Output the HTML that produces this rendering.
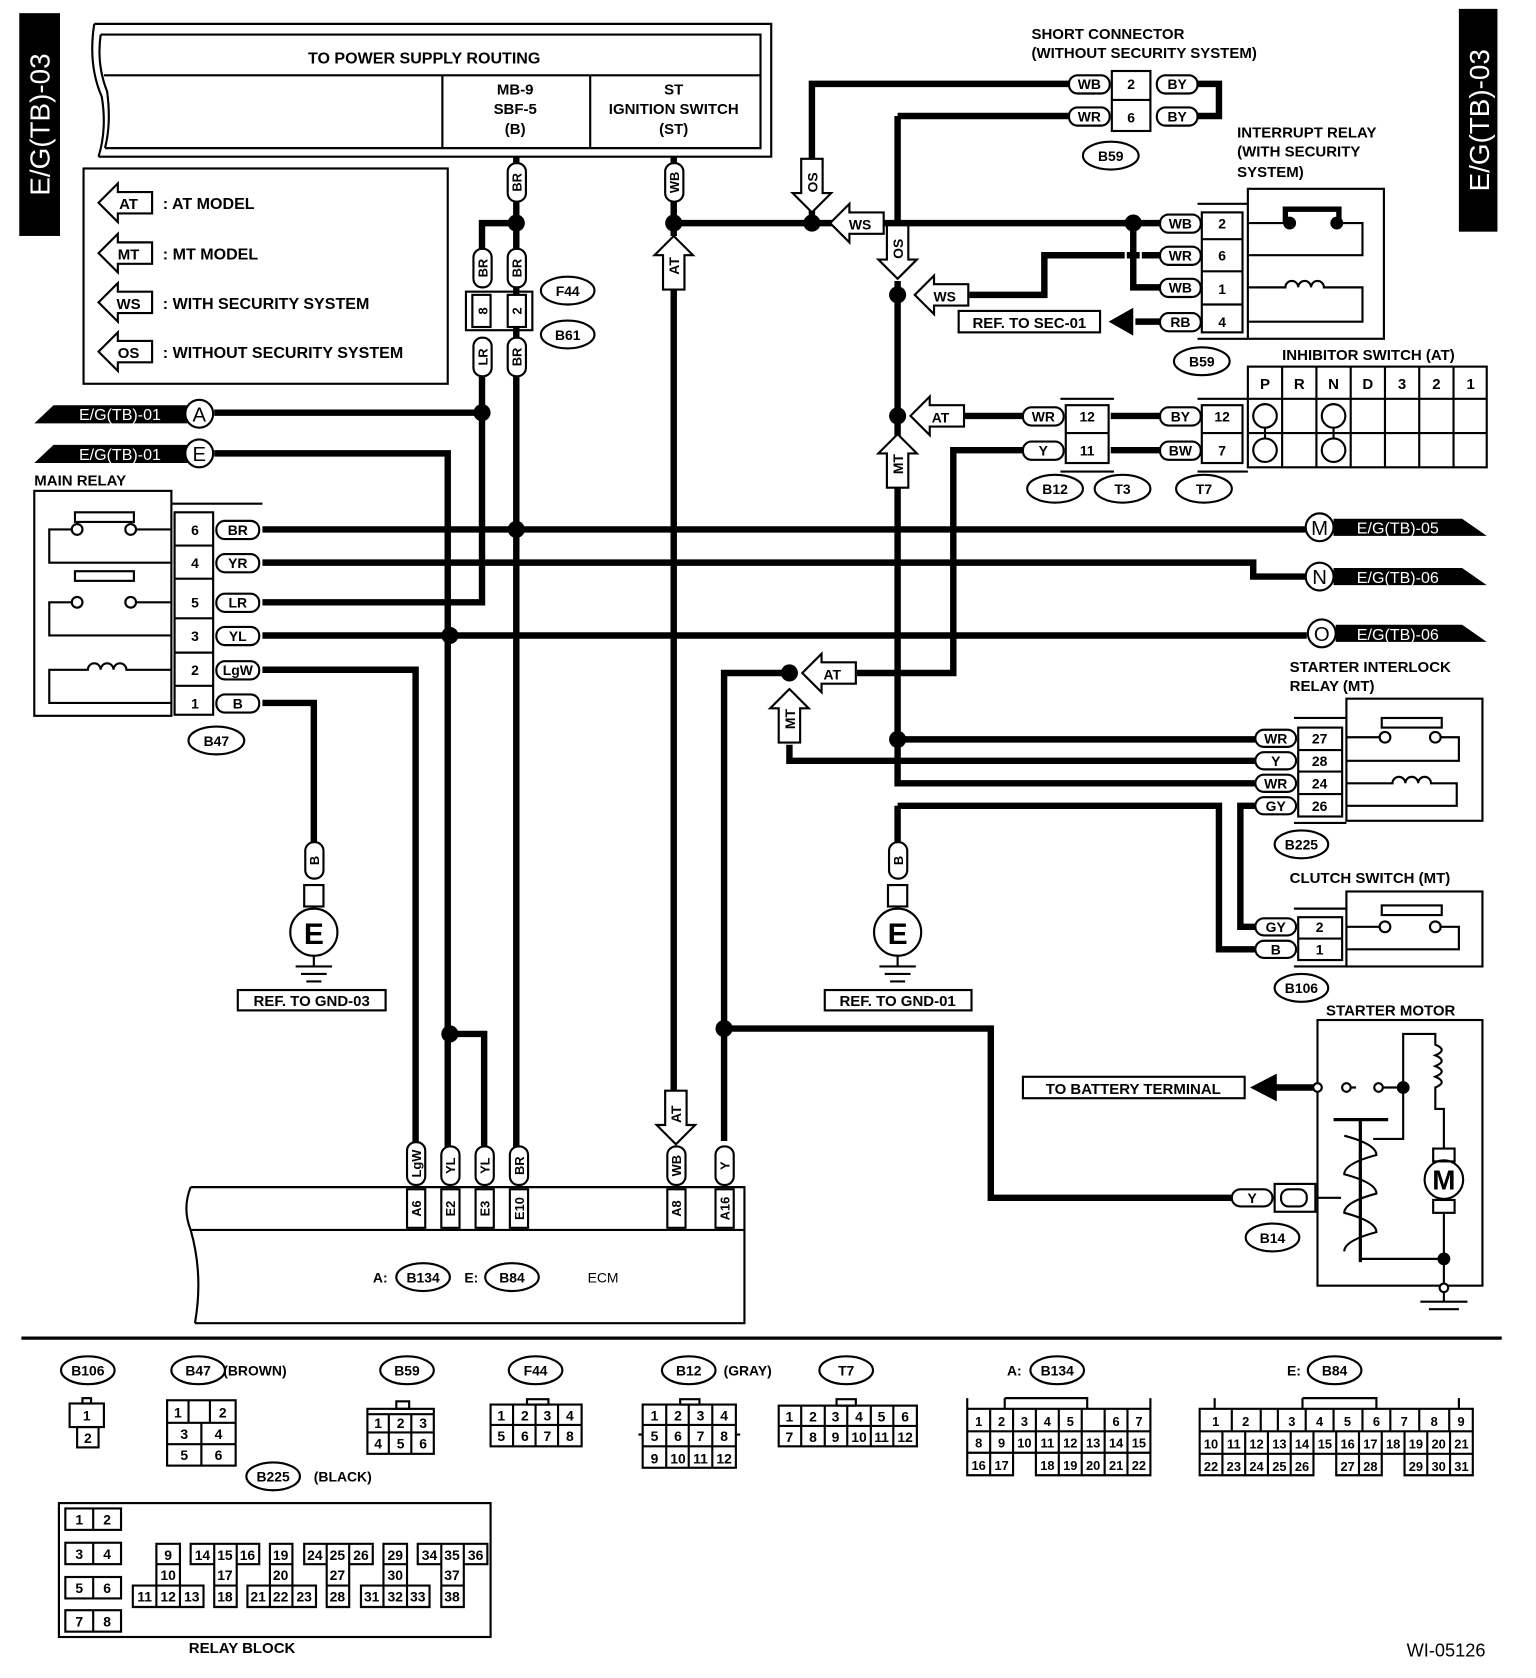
<!DOCTYPE html>
<html><head><meta charset="utf-8"><style>
html,body{margin:0;padding:0;background:#fff}
svg{display:block}
text{font-family:"Liberation Sans",sans-serif;font-weight:bold;fill:#000}
.w{stroke:#000;stroke-width:6;fill:none}
.t{stroke:#000;stroke-width:2;fill:none}
.b{stroke:#000;stroke-width:2;fill:#fff}
</style></head><body>
<svg width="1536" height="1678" viewBox="0 0 1434 1566" xmlns="http://www.w3.org/2000/svg">
<defs>
<polygon id="ar" points="-26,0 -8,-18 -8,-10 24,-10 24,10 -8,10 -8,18" fill="#fff" stroke="#000" stroke-width="2"/>
</defs>
<rect width="1434" height="1566" fill="#fff"/>

<rect x="18" y="12" width="38" height="208" fill="#000"/>
<text transform="translate(46,116) rotate(-90)" font-size="26" text-anchor="middle" style="fill:#fff;font-weight:normal">E/G(TB)-03</text>
<rect x="1362" y="8" width="36" height="208" fill="#000"/>
<text transform="translate(1390,112) rotate(-90)" font-size="26" text-anchor="middle" style="fill:#fff;font-weight:normal">E/G(TB)-03</text>

<path class="t" d="M88,22 L720,22 L720,146 L92,146 M88,22 Q82,60 95,90 Q100,120 92,146" stroke-width="3"/>
<path class="t" d="M94,32 L710,32 L710,138 L98,138 M94,32 Q90,60 100,85 Q104,115 98,138 M97,70 L710,70 M413,70 L413,138 M551,70 L551,138" stroke-width="3"/>
<text x="396" y="59" font-size="15" text-anchor="middle">TO POWER SUPPLY ROUTING</text>
<text x="481" y="88" font-size="14" text-anchor="middle">MB-9</text>
<text x="481" y="106" font-size="14" text-anchor="middle">SBF-5</text>
<text x="481" y="125" font-size="14" text-anchor="middle">(B)</text>
<text x="629" y="88" font-size="14" text-anchor="middle">ST</text>
<text x="629" y="106" font-size="14" text-anchor="middle">IGNITION SWITCH</text>
<text x="629" y="125" font-size="14" text-anchor="middle">(ST)</text>

<rect x="78" y="157" width="340" height="201" class="t" stroke-width="3"/>
<use href="#ar" x="118" y="189"/><text x="120" y="195" font-size="14" text-anchor="middle">AT</text><text x="152" y="195" font-size="15">: AT MODEL</text>
<use href="#ar" x="118" y="236"/><text x="120" y="242" font-size="14" text-anchor="middle">MT</text><text x="152" y="242" font-size="15">: MT MODEL</text>
<use href="#ar" x="118" y="282"/><text x="120" y="288" font-size="14" text-anchor="middle">WS</text><text x="152" y="288" font-size="15">: WITH SECURITY SYSTEM</text>
<use href="#ar" x="118" y="328"/><text x="120" y="334" font-size="14" text-anchor="middle">OS</text><text x="152" y="334" font-size="15">: WITHOUT SECURITY SYSTEM</text>

<g class="w">
<path d="M482,146 V1090"/>
<path d="M482,208 H450 V240"/>
<path d="M450,345 V562 H245"/>
<path d="M200,385 H450"/>
<path d="M200,423 H418 V1090"/>
<path d="M418,965 H452 V1090"/>
<path d="M245,494 H1220"/>
<path d="M245,525 H1170 V538 H1220"/>
<path d="M245,593 H1220"/>
<path d="M245,625 H388 V1090"/>
<path d="M245,656 H293 V790"/>
<path d="M629,146 V220 M629,265 V1030"/>
<path d="M629,208 H778 M818,208 H1085"/>
<path d="M758,208 V78 H1000"/>
<path d="M838,108 H1000 M838,108 V210"/>
<path d="M838,262 V731 H1172"/>
<path d="M1058,208 V268 H1085"/>
<path d="M905,275 H975 V238 H1085"/>
<path d="M1060,300 H1085"/>
<path d="M900,388 H957 M1037,388 H1085"/>
<path d="M957,420 H890 V628 H800"/>
<path d="M1037,420 H1085"/>
<path d="M838,690 H1172"/>
<path d="M737,628 H676 V1065"/>
<path d="M737,695 V710 H1172"/>
<path d="M838,752 H1138 V886 H1172"/>
<path d="M838,752 V790"/>
<path d="M1172,752 H1158 V865 H1172"/>
<path d="M676,960 H925 V1118 H1150"/>
<path d="M1118,78 H1138 V108 H1118"/>
</g>
<g fill="#000">
<circle cx="482" cy="208" r="8"/><circle cx="450" cy="385" r="8"/><circle cx="482" cy="494" r="8"/>
<circle cx="420" cy="593" r="8"/><circle cx="420" cy="965" r="8"/><circle cx="629" cy="208" r="8"/>
<circle cx="758" cy="208" r="8"/><circle cx="838" cy="275" r="8"/><circle cx="838" cy="388" r="8"/>
<circle cx="1058" cy="208" r="8"/><circle cx="737" cy="628" r="8"/><circle cx="838" cy="690" r="8"/>
<circle cx="676" cy="960" r="8"/>
</g>
<g fill="#fff">
<rect x="1050" y="232" width="2" height="12"/><rect x="1064" y="232" width="2" height="12"/>
</g>

<g font-size="12">
<rect x="474" y="152" width="17" height="36" rx="8" class="b"/><text transform="translate(487,170) rotate(-90)" text-anchor="middle">BR</text>
<rect x="621" y="152" width="17" height="36" rx="8" class="b"/><text transform="translate(634,170) rotate(-90)" text-anchor="middle">WB</text>
<rect x="442" y="232" width="17" height="36" rx="8" class="b"/><text transform="translate(455,250) rotate(-90)" text-anchor="middle">BR</text>
<rect x="474" y="232" width="17" height="36" rx="8" class="b"/><text transform="translate(487,250) rotate(-90)" text-anchor="middle">BR</text>
<rect x="442" y="315" width="17" height="36" rx="8" class="b"/><text transform="translate(455,333) rotate(-90)" text-anchor="middle">LR</text>
<rect x="474" y="315" width="17" height="36" rx="8" class="b"/><text transform="translate(487,333) rotate(-90)" text-anchor="middle">BR</text>
<rect x="285" y="786" width="17" height="34" rx="8" class="b"/><text transform="translate(298,803) rotate(-90)" text-anchor="middle">B</text>
<rect x="830" y="786" width="17" height="34" rx="8" class="b"/><text transform="translate(843,803) rotate(-90)" text-anchor="middle">B</text>
<rect x="380" y="1066" width="17" height="40" rx="8" class="b"/><text transform="translate(393,1086) rotate(-90)" text-anchor="middle">LgW</text>
<rect x="412" y="1070" width="17" height="36" rx="8" class="b"/><text transform="translate(425,1088) rotate(-90)" text-anchor="middle">YL</text>
<rect x="444" y="1070" width="17" height="36" rx="8" class="b"/><text transform="translate(457,1088) rotate(-90)" text-anchor="middle">YL</text>
<rect x="476" y="1070" width="17" height="36" rx="8" class="b"/><text transform="translate(489,1088) rotate(-90)" text-anchor="middle">BR</text>
<rect x="623" y="1070" width="17" height="36" rx="8" class="b"/><text transform="translate(636,1088) rotate(-90)" text-anchor="middle">WB</text>
<rect x="668" y="1070" width="17" height="36" rx="8" class="b"/><text transform="translate(681,1088) rotate(-90)" text-anchor="middle">Y</text>
</g>
<rect x="435" y="272" width="62" height="36" class="t"/>
<rect x="441" y="275" width="17" height="30" class="b"/><rect x="474" y="275" width="17" height="30" class="b"/>
<text transform="translate(455,290) rotate(-90)" font-size="12" text-anchor="middle">8</text>
<text transform="translate(487,290) rotate(-90)" font-size="12" text-anchor="middle">2</text>
<g font-size="13" text-anchor="middle">
<ellipse cx="530" cy="271" rx="25" ry="13" class="b"/><text x="530" y="276">F44</text>
<ellipse cx="530" cy="312" rx="25" ry="13" class="b"/><text x="530" y="317">B61</text>
</g>

<polygon points="32,395 50,378 175,378 175,395" fill="#000"/>
<text x="112" y="392" font-size="15" text-anchor="middle" style="fill:#fff;font-weight:normal">E/G(TB)-01</text>
<circle cx="186" cy="386" r="13" class="b"/><text x="186" y="393" font-size="19" text-anchor="middle" style="font-weight:normal">A</text>
<polygon points="32,432 50,415 175,415 175,432" fill="#000"/>
<text x="112" y="429" font-size="15" text-anchor="middle" style="fill:#fff;font-weight:normal">E/G(TB)-01</text>
<circle cx="186" cy="423" r="13" class="b"/><text x="186" y="430" font-size="19" text-anchor="middle" style="font-weight:normal">E</text>

<g>
<polygon points="1245,484 1365,484 1388,500 1245,500" fill="#000"/>
<circle cx="1232" cy="492" r="13" class="b"/><text x="1232" y="499" font-size="19" text-anchor="middle" style="font-weight:normal">M</text>
<text x="1305" y="498" font-size="15" text-anchor="middle" style="fill:#fff;font-weight:normal">E/G(TB)-05</text>
<polygon points="1245,530 1365,530 1388,546 1245,546" fill="#000"/>
<circle cx="1232" cy="538" r="13" class="b"/><text x="1232" y="545" font-size="19" text-anchor="middle" style="font-weight:normal">N</text>
<text x="1305" y="544" font-size="15" text-anchor="middle" style="fill:#fff;font-weight:normal">E/G(TB)-06</text>
<polygon points="1247,583 1365,583 1388,599 1247,599" fill="#000"/>
<circle cx="1234" cy="591" r="13" class="b"/><text x="1234" y="598" font-size="19" text-anchor="middle" style="font-weight:normal">O</text>
<text x="1305" y="597" font-size="15" text-anchor="middle" style="fill:#fff;font-weight:normal">E/G(TB)-06</text>
</g>

<text x="32" y="453" font-size="14">MAIN RELAY</text>
<rect x="32" y="458" width="128" height="210" class="t" stroke-width="3"/>
<rect x="163" y="478" width="36" height="189" class="t"/>
<path class="t" d="M163,509 H199 M163,540 H199 M163,577 H199 M163,609 H199 M163,640 H199 M160,470 H245"/>
<g font-size="13" text-anchor="middle">
<text x="182" y="499">6</text><text x="182" y="530">4</text><text x="182" y="567">5</text><text x="182" y="598">3</text><text x="182" y="630">2</text><text x="182" y="661">1</text>
</g>
<g font-size="13" text-anchor="middle">
<rect x="202" y="486" width="40" height="17" rx="8" class="b"/><text x="222" y="499">BR</text>
<rect x="202" y="517" width="40" height="17" rx="8" class="b"/><text x="222" y="530">YR</text>
<rect x="202" y="554" width="40" height="17" rx="8" class="b"/><text x="222" y="567">LR</text>
<rect x="202" y="585" width="40" height="17" rx="8" class="b"/><text x="222" y="598">YL</text>
<rect x="202" y="617" width="40" height="17" rx="8" class="b"/><text x="222" y="630">LgW</text>
<rect x="202" y="648" width="40" height="17" rx="8" class="b"/><text x="222" y="661">B</text>
</g>
<g class="t">
<rect x="70" y="478" width="55" height="9" fill="#fff"/>
<circle cx="72" cy="494" r="5"/><circle cx="122" cy="494" r="5"/>
<path d="M67,494 H46 V525 H160 M127,494 H160"/>
<rect x="70" y="533" width="55" height="9" fill="#fff"/>
<circle cx="72" cy="562" r="5"/><circle cx="122" cy="562" r="5"/>
<path d="M67,562 H46 V593 H160 M127,562 H160"/>
<path d="M160,625 H118 a6,6 0 0 0 -12,0 a6,6 0 0 0 -12,0 a6,6 0 0 0 -12,0 H46 V656 H160"/>
</g>
<ellipse cx="202" cy="691" rx="26" ry="13" class="b"/><text x="202" y="696" font-size="13" text-anchor="middle">B47</text>

<rect x="284" y="826" width="18" height="20" class="b"/>
<circle cx="293" cy="870" r="22" class="b" stroke-width="3"/><text x="293" y="881" font-size="28" text-anchor="middle">E</text>
<path class="t" d="M293,892 V902 M276,902 H310 M281,909 H305 M286,916 H300"/>
<rect x="222" y="924" width="138" height="19" class="t"/><text x="291" y="939" font-size="14" text-anchor="middle">REF. TO GND-03</text>
<rect x="829" y="826" width="18" height="20" class="b"/>
<circle cx="838" cy="870" r="22" class="b" stroke-width="3"/><text x="838" y="881" font-size="28" text-anchor="middle">E</text>
<path class="t" d="M838,892 V902 M821,902 H855 M826,909 H850 M831,916 H845"/>
<rect x="770" y="924" width="137" height="19" class="t"/><text x="838" y="939" font-size="14" text-anchor="middle">REF. TO GND-01</text>

<g font-size="13" text-anchor="middle">
<use href="#ar" transform="translate(629,246) rotate(90)"/><text transform="translate(634,248) rotate(-90)">AT</text>
<use href="#ar" transform="translate(758,172) rotate(-90)"/><text transform="translate(763,170) rotate(-90)">OS</text>
<use href="#ar" x="801" y="208"/><text x="803" y="214">WS</text>
<use href="#ar" transform="translate(838,234) rotate(-90)"/><text transform="translate(843,232) rotate(-90)">OS</text>
<use href="#ar" x="880" y="275"/><text x="882" y="281">WS</text>
<use href="#ar" x="876" y="388"/><text x="878" y="394">AT</text>
<use href="#ar" transform="translate(838,431) rotate(90)"/><text transform="translate(843,433) rotate(-90)">MT</text>
<use href="#ar" x="775" y="628"/><text x="777" y="634">AT</text>
<use href="#ar" transform="translate(737,669) rotate(90)"/><text transform="translate(742,671) rotate(-90)">MT</text>
<use href="#ar" transform="translate(631,1042) rotate(-90)"/><text transform="translate(636,1040) rotate(-90)">AT</text>
</g>

<text x="963" y="36" font-size="14">SHORT CONNECTOR</text>
<text x="963" y="54" font-size="14">(WITHOUT SECURITY SYSTEM)</text>
<rect x="1038" y="66" width="36" height="56" class="t"/>
<path class="t" d="M1038,93 H1074"/>
<g font-size="13" text-anchor="middle">
<text x="1056" y="83">2</text><text x="1056" y="114">6</text>
<rect x="998" y="70" width="38" height="17" rx="8" class="b"/><text x="1017" y="83">WB</text>
<rect x="998" y="100" width="38" height="17" rx="8" class="b"/><text x="1017" y="113">WR</text>
<rect x="1080" y="70" width="38" height="17" rx="8" class="b"/><text x="1099" y="83">BY</text>
<rect x="1080" y="100" width="38" height="17" rx="8" class="b"/><text x="1099" y="113">BY</text>
<ellipse cx="1037" cy="145" rx="26" ry="13" class="b"/><text x="1037" y="150">B59</text>
</g>

<text x="1155" y="128" font-size="14">INTERRUPT RELAY</text>
<text x="1155" y="146" font-size="14">(WITH SECURITY</text>
<text x="1155" y="165" font-size="14">SYSTEM)</text>
<rect x="1165" y="176" width="127" height="140" class="t"/>
<rect x="1122" y="198" width="38" height="112" class="t"/>
<path class="t" d="M1122,223 H1160 M1122,253 H1160 M1122,284 H1160 M1118,190 H1165 M1118,316 H1165"/>
<g font-size="13" text-anchor="middle">
<text x="1141" y="213">2</text><text x="1141" y="243">6</text><text x="1141" y="274">1</text><text x="1141" y="305">4</text>
<rect x="1083" y="200" width="38" height="17" rx="8" class="b"/><text x="1102" y="213">WB</text>
<rect x="1083" y="230" width="38" height="17" rx="8" class="b"/><text x="1102" y="243">WR</text>
<rect x="1083" y="260" width="38" height="17" rx="8" class="b"/><text x="1102" y="273">WB</text>
<rect x="1083" y="292" width="38" height="17" rx="8" class="b"/><text x="1102" y="305">RB</text>
<ellipse cx="1122" cy="337" rx="26" ry="13" class="b"/><text x="1122" y="342">B59</text>
</g>
<g class="t">
<path d="M1200,208 V195 H1250 V208" stroke-width="5"/>
<circle cx="1204" cy="208" r="5" fill="#000"/><circle cx="1248" cy="208" r="5" fill="#000"/>
<path d="M1165,208 H1199 M1253,208 H1272 V238 H1165"/>
<path d="M1165,268 H1200 a6,6 0 0 1 12,0 a6,6 0 0 1 12,0 a6,6 0 0 1 12,0 H1272 V300 H1165"/>
</g>
<rect x="895" y="290" width="132" height="20" class="t"/><text x="961" y="306" font-size="14" text-anchor="middle">REF. TO SEC-01</text>
<polygon points="1035,300 1058,287 1058,313" fill="#000"/>

<text x="1197" y="336" font-size="14">INHIBITOR SWITCH (AT)</text>
<g class="t">
<rect x="1165" y="342" width="223" height="94"/>
<path d="M1165,372 H1388 M1165,404 H1388 M1197,342 V436 M1229,342 V436 M1261,342 V436 M1293,342 V436 M1325,342 V436 M1357,342 V436"/>
<circle cx="1181" cy="388" r="11"/><circle cx="1181" cy="420" r="11"/><path d="M1181,399 V409"/>
<circle cx="1245" cy="388" r="11"/><circle cx="1245" cy="420" r="11"/><path d="M1245,399 V409"/>
</g>
<g font-size="14" text-anchor="middle">
<text x="1181" y="363">P</text><text x="1213" y="363">R</text><text x="1245" y="363">N</text><text x="1277" y="363">D</text><text x="1309" y="363">3</text><text x="1341" y="363">2</text><text x="1373" y="363">1</text>
</g>
<rect x="995" y="378" width="40" height="54" class="t"/><path class="t" d="M995,404 H1035 M990,372 H1040 M990,440 H1040"/>
<rect x="1122" y="378" width="38" height="54" class="t"/><path class="t" d="M1122,404 H1160 M1118,372 H1165 M1118,440 H1165"/>
<g font-size="13" text-anchor="middle">
<text x="1015" y="393">12</text><text x="1015" y="425">11</text>
<text x="1141" y="393">12</text><text x="1141" y="425">7</text>
<rect x="955" y="380" width="38" height="17" rx="8" class="b"/><text x="974" y="393">WR</text>
<rect x="955" y="412" width="38" height="17" rx="8" class="b"/><text x="974" y="425">Y</text>
<rect x="1083" y="380" width="38" height="17" rx="8" class="b"/><text x="1102" y="393">BY</text>
<rect x="1083" y="412" width="38" height="17" rx="8" class="b"/><text x="1102" y="425">BW</text>
<ellipse cx="985" cy="456" rx="26" ry="13" class="b"/><text x="985" y="461">B12</text>
<ellipse cx="1048" cy="456" rx="26" ry="13" class="b"/><text x="1048" y="461">T3</text>
<ellipse cx="1124" cy="456" rx="26" ry="13" class="b"/><text x="1124" y="461">T7</text>
</g>

<text x="1204" y="627" font-size="14">STARTER INTERLOCK</text>
<text x="1204" y="645" font-size="14">RELAY (MT)</text>
<rect x="1257" y="652" width="127" height="114" class="t"/>
<rect x="1212" y="679" width="41" height="83" class="t"/>
<path class="t" d="M1212,700 H1253 M1212,720 H1253 M1212,741 H1253 M1208,670 H1257 M1208,768 H1257"/>
<g font-size="13" text-anchor="middle">
<text x="1232" y="694">27</text><text x="1232" y="715">28</text><text x="1232" y="736">24</text><text x="1232" y="757">26</text>
<rect x="1172" y="681" width="38" height="16" rx="8" class="b"/><text x="1191" y="694">WR</text>
<rect x="1172" y="702" width="38" height="16" rx="8" class="b"/><text x="1191" y="715">Y</text>
<rect x="1172" y="723" width="38" height="16" rx="8" class="b"/><text x="1191" y="736">WR</text>
<rect x="1172" y="744" width="38" height="16" rx="8" class="b"/><text x="1191" y="757">GY</text>
<ellipse cx="1215" cy="788" rx="25" ry="13" class="b"/><text x="1215" y="793">B225</text>
</g>
<g class="t">
<rect x="1290" y="670" width="56" height="9"/>
<circle cx="1293" cy="688" r="5"/><circle cx="1340" cy="688" r="5"/>
<path d="M1257,688 H1288 M1345,688 H1362 V710 H1257"/>
<path d="M1257,731 H1300 a6,6 0 0 1 12,0 a6,6 0 0 1 12,0 a6,6 0 0 1 12,0 H1360 V752 H1257"/>
</g>
<text x="1204" y="824" font-size="14">CLUTCH SWITCH (MT)</text>
<rect x="1257" y="832" width="127" height="70" class="t"/>
<rect x="1212" y="856" width="41" height="40" class="t"/>
<path class="t" d="M1212,876 H1253 M1208,848 H1257 M1208,902 H1257"/>
<g font-size="13" text-anchor="middle">
<text x="1232" y="870">2</text><text x="1232" y="891">1</text>
<rect x="1172" y="857" width="38" height="16" rx="8" class="b"/><text x="1191" y="870">GY</text>
<rect x="1172" y="878" width="38" height="16" rx="8" class="b"/><text x="1191" y="891">B</text>
<ellipse cx="1215" cy="922" rx="25" ry="13" class="b"/><text x="1215" y="927">B106</text>
</g>
<g class="t">
<rect x="1290" y="845" width="56" height="9"/>
<circle cx="1293" cy="865" r="5"/><circle cx="1340" cy="865" r="5"/>
<path d="M1257,865 H1288 M1345,865 H1362 V886 H1257"/>
</g>

<text x="1238" y="948" font-size="14">STARTER MOTOR</text>
<rect x="1230" y="952" width="154" height="248" class="t"/>
<rect x="955" y="1005" width="207" height="20" class="t"/><text x="1058" y="1021" font-size="14" text-anchor="middle">TO BATTERY TERMINAL</text>
<polygon points="1167,1015 1192,1002 1192,1028" fill="#000"/>
<path class="w" d="M1190,1015 H1226" stroke-width="5"/>
<g class="t">
<circle cx="1230" cy="1015" r="4" fill="#fff"/><circle cx="1257" cy="1015" r="4"/><circle cx="1287" cy="1015" r="4"/>
<path d="M1261,1015 H1266 M1291,1015 H1310"/>
<circle cx="1310" cy="1015" r="5" fill="#000"/>
<path d="M1310,1015 V965 H1340 V975 q12,5 0,10 q12,5 0,10 q12,5 0,10 q12,5 0,10 V1035 H1348 V1072"/>
<path d="M1310,1015 V1063 H1282"/>
<rect x="1338" y="1072" width="20" height="12"/>
<circle cx="1348" cy="1101" r="18"/>
<rect x="1338" y="1120" width="20" height="12"/>
<path d="M1348,1132 V1198 M1348,1175 H1270"/>
<circle cx="1348" cy="1175" r="5" fill="#000"/>
<circle cx="1348" cy="1202" r="4" fill="#fff"/>
<path d="M1348,1206 V1215 M1326,1215 H1370 M1334,1222 H1362"/>
<path d="M1245,1045 H1296 M1270,1045 V1178" stroke-width="3"/>
<path d="M1255,1060 q30,8 30,18 q-30,8 -30,18 q30,8 30,18 q-30,8 -30,18 q30,8 30,18 q-30,8 -30,18"/>
<path d="M1228,1118 H1252"/>
</g>
<text x="1348" y="1110" font-size="26" text-anchor="middle">M</text>
<rect x="1190" y="1105" width="38" height="26" class="t"/><rect x="1196" y="1110" width="24" height="16" rx="7" class="t"/>
<rect x="1150" y="1110" width="38" height="16" rx="8" class="b"/><text x="1169" y="1123" font-size="13" text-anchor="middle">Y</text>
<ellipse cx="1188" cy="1155" rx="25" ry="13" class="b"/><text x="1188" y="1160" font-size="13" text-anchor="middle">B14</text>

<path class="t" stroke-width="3" d="M178,1108 H695 V1235 H182 M178,1148 H695 M178,1108 Q170,1128 178,1148 Q190,1190 182,1235"/>
<g class="t">
<rect x="380" y="1110" width="17" height="36"/><rect x="412" y="1110" width="17" height="36"/><rect x="444" y="1110" width="17" height="36"/><rect x="476" y="1110" width="17" height="36"/>
<rect x="623" y="1110" width="17" height="36"/><rect x="668" y="1110" width="17" height="36"/>
</g>
<g font-size="12" text-anchor="middle">
<text transform="translate(393,1128) rotate(-90)">A6</text><text transform="translate(425,1128) rotate(-90)">E2</text>
<text transform="translate(457,1128) rotate(-90)">E3</text><text transform="translate(489,1128) rotate(-90)">E10</text>
<text transform="translate(636,1128) rotate(-90)">A8</text><text transform="translate(681,1128) rotate(-90)">A16</text>
</g>
<g font-size="13" text-anchor="middle">
<text x="355" y="1197">A:</text>
<ellipse cx="395" cy="1192" rx="25" ry="13" class="b"/><text x="395" y="1197">B134</text>
<text x="440" y="1197">E:</text>
<ellipse cx="478" cy="1192" rx="25" ry="13" class="b"/><text x="478" y="1197">B84</text>
<text x="563" y="1197" style="font-weight:normal">ECM</text>
</g>

<path d="M20,1249 H1402" stroke="#000" stroke-width="3"/>

<g font-size="13" text-anchor="middle">
<ellipse cx="82" cy="1279" rx="25" ry="13" class="b"/><text x="82" y="1284">B106</text>
<ellipse cx="185" cy="1279" rx="25" ry="13" class="b"/><text x="185" y="1284">B47</text><text x="238" y="1284">(BROWN)</text>
<ellipse cx="380" cy="1279" rx="25" ry="13" class="b"/><text x="380" y="1284">B59</text>
<ellipse cx="500" cy="1279" rx="25" ry="13" class="b"/><text x="500" y="1284">F44</text>
<ellipse cx="643" cy="1279" rx="25" ry="13" class="b"/><text x="643" y="1284">B12</text><text x="698" y="1284">(GRAY)</text>
<ellipse cx="790" cy="1279" rx="25" ry="13" class="b"/><text x="790" y="1284">T7</text>
<text x="947" y="1284">A:</text><ellipse cx="987" cy="1279" rx="25" ry="13" class="b"/><text x="987" y="1284">B134</text>
<text x="1208" y="1284">E:</text><ellipse cx="1246" cy="1279" rx="25" ry="13" class="b"/><text x="1246" y="1284">B84</text>
<ellipse cx="255" cy="1378" rx="25" ry="13" class="b"/><text x="255" y="1383">B225</text><text x="320" y="1383">(BLACK)</text>
</g>
<g class="t">
<rect x="77" y="1305" width="8" height="5"/><rect x="65" y="1310" width="32" height="22"/><rect x="72" y="1332" width="20" height="19"/>
<rect x="156" y="1307" width="64" height="61"/><path d="M156,1328 H220 M156,1348 H220 M188,1328 V1368 M176,1307 V1328 M196,1307 V1328"/>
<rect x="370" y="1308" width="12" height="7"/><rect x="343" y="1315" width="62" height="42"/><path d="M343,1320 H405 M343,1337 H405 M363,1320 V1357 M384,1320 V1357"/>
<rect x="492" y="1306" width="20" height="5"/><rect x="458" y="1311" width="85" height="39"/><path d="M458,1330 H543 M479,1311 V1350 M500,1311 V1350 M521,1311 V1350"/>
<rect x="635" y="1306" width="18" height="5"/><rect x="600" y="1311" width="87" height="59"/><path d="M600,1330 H687 M600,1350 H687 M622,1311 V1370 M643,1311 V1370 M665,1311 V1370 M596,1339 H600 M687,1339 H691"/>
<rect x="781" y="1306" width="18" height="6"/><rect x="727" y="1312" width="129" height="38"/><path d="M727,1331 H856 M748,1312 V1350 M770,1312 V1350 M791,1312 V1350 M813,1312 V1350 M834,1312 V1350"/>
<path d="M903,1315 H1074 V1377 H967.1 V1356 H945.8 V1377 H903 Z M903,1336 H1074 M903,1356 H1074 M924.4,1315 V1377 M945.8,1315 V1356 M967.1,1315 V1356 M988.5,1315 V1377 M1009.9,1315 V1377 M1031.3,1315 V1377 M1052.6,1315 V1377 M903,1305 V1315 M1074,1305 V1315 M938,1305 H1015 V1315 M938,1305 V1315"/>
<path d="M1120,1315 H1375 V1377 H1311.25 V1357 H1290 V1377 H1247.5 V1357 H1226.25 V1377 H1120 Z M1120,1336 H1375 M1120,1357 H1375 M1141.25,1336 V1377 M1162.5,1336 V1377 M1183.75,1336 V1377 M1205,1336 V1377 M1226.25,1336 V1357 M1247.5,1336 V1357 M1268.75,1336 V1377 M1290,1336 V1357 M1311.25,1336 V1357 M1332.5,1336 V1377 M1353.75,1336 V1377 M1150,1315 V1336 M1177,1315 V1336 M1193,1315 V1336 M1219,1315 V1336 M1245,1315 V1336 M1272,1315 V1336 M1298,1315 V1336 M1325,1315 V1336 M1353,1315 V1336 M1216,1305 H1285 V1315 M1216,1305 V1315 M1134,1305 V1315 M1362,1305 V1315"/>
</g>
<g font-size="13" text-anchor="middle">
<text x="81" y="1326">1</text><text x="82" y="1347">2</text>
<text x="166" y="1323">1</text><text x="208" y="1323">2</text><text x="172" y="1343">3</text><text x="204" y="1343">4</text><text x="172" y="1363">5</text><text x="204" y="1363">6</text>
<text x="353" y="1333">1</text><text x="374" y="1333">2</text><text x="395" y="1333">3</text><text x="353" y="1352">4</text><text x="374" y="1352">5</text><text x="395" y="1352">6</text>
<text x="468" y="1326">1</text><text x="490" y="1326">2</text><text x="511" y="1326">3</text><text x="532" y="1326">4</text>
<text x="468" y="1345">5</text><text x="490" y="1345">6</text><text x="511" y="1345">7</text><text x="532" y="1345">8</text>
<text x="611" y="1326">1</text><text x="633" y="1326">2</text><text x="654" y="1326">3</text><text x="676" y="1326">4</text>
<text x="611" y="1345">5</text><text x="633" y="1345">6</text><text x="654" y="1345">7</text><text x="676" y="1345">8</text>
<text x="611" y="1366">9</text><text x="633" y="1366">10</text><text x="654" y="1366">11</text><text x="676" y="1366">12</text>
<text x="737" y="1327">1</text><text x="759" y="1327">2</text><text x="780" y="1327">3</text><text x="802" y="1327">4</text><text x="823" y="1327">5</text><text x="845" y="1327">6</text>
<text x="737" y="1346">7</text><text x="759" y="1346">8</text><text x="780" y="1346">9</text><text x="802" y="1346">10</text><text x="823" y="1346">11</text><text x="845" y="1346">12</text>
</g>
<g font-size="12" text-anchor="middle">
<text x="913.7" y="1331">1</text><text x="935.1" y="1331">2</text><text x="956.4" y="1331">3</text><text x="977.8" y="1331">4</text><text x="999.2" y="1331">5</text><text x="1042" y="1331">6</text><text x="1063.3" y="1331">7</text>
<text x="913.7" y="1351">8</text><text x="935.1" y="1351">9</text><text x="956.4" y="1351">10</text><text x="977.8" y="1351">11</text><text x="999.2" y="1351">12</text><text x="1020.6" y="1351">13</text><text x="1042" y="1351">14</text><text x="1063.3" y="1351">15</text>
<text x="913.7" y="1372">16</text><text x="935.1" y="1372">17</text><text x="977.8" y="1372">18</text><text x="999.2" y="1372">19</text><text x="1020.6" y="1372">20</text><text x="1042" y="1372">21</text><text x="1063.3" y="1372">22</text>
<text x="1135" y="1331">1</text><text x="1163" y="1331">2</text><text x="1206" y="1331">3</text><text x="1232" y="1331">4</text><text x="1258" y="1331">5</text><text x="1285" y="1331">6</text><text x="1311" y="1331">7</text><text x="1339" y="1331">8</text><text x="1364" y="1331">9</text>
<text x="1130.6" y="1352">10</text><text x="1151.9" y="1352">11</text><text x="1173.1" y="1352">12</text><text x="1194.4" y="1352">13</text><text x="1215.6" y="1352">14</text><text x="1236.9" y="1352">15</text><text x="1258.1" y="1352">16</text><text x="1279.4" y="1352">17</text><text x="1300.6" y="1352">18</text><text x="1321.9" y="1352">19</text><text x="1343.1" y="1352">20</text><text x="1364.4" y="1352">21</text>
<text x="1130.6" y="1373">22</text><text x="1151.9" y="1373">23</text><text x="1173.1" y="1373">24</text><text x="1194.4" y="1373">25</text><text x="1215.6" y="1373">26</text><text x="1258.1" y="1373">27</text><text x="1279.4" y="1373">28</text><text x="1321.9" y="1373">29</text><text x="1343.1" y="1373">30</text><text x="1364.4" y="1373">31</text>
</g>

<rect x="55" y="1403" width="403" height="125" class="t"/>
<g class="t">
<rect x="61" y="1408" width="52" height="20"/><path d="M87,1408 V1428"/>
<rect x="61" y="1440" width="52" height="20"/><path d="M87,1440 V1460"/>
<rect x="61" y="1472" width="52" height="20"/><path d="M87,1472 V1492"/>
<rect x="61" y="1503" width="52" height="20"/><path d="M87,1503 V1523"/>
<path d="M146,1441 H168 V1480 H190 V1500 H124 V1480 H146 Z M146,1460 H168 M146,1480 H168 M146,1480 V1500 M168,1480 V1500"/>
<path d="M178,1441 H242 V1460 H221 V1500 H200 V1460 H178 Z M200,1441 V1460 M221,1441 V1460 M200,1480 H221"/>
<path d="M252,1441 H273 V1480 H295 V1500 H231 V1480 H252 Z M252,1460 H273 M252,1480 H273 M252,1480 V1500 M273,1480 V1500"/>
<path d="M284,1441 H348 V1460 H326 V1500 H305 V1460 H284 Z M305,1441 V1460 M326,1441 V1460 M305,1480 H326"/>
<path d="M358,1441 H380 V1480 H401 V1500 H337 V1480 H358 Z M358,1460 H380 M358,1480 H380 M358,1480 V1500 M380,1480 V1500"/>
<path d="M390,1441 H455 V1460 H433 V1500 H412 V1460 H390 Z M412,1441 V1460 M433,1441 V1460 M412,1480 H433"/>
</g>
<g font-size="13" text-anchor="middle">
<text x="74" y="1423">1</text><text x="100" y="1423">2</text><text x="74" y="1455">3</text><text x="100" y="1455">4</text>
<text x="74" y="1487">5</text><text x="100" y="1487">6</text><text x="74" y="1518">7</text><text x="100" y="1518">8</text>
<text x="157" y="1456">9</text><text x="157" y="1475">10</text><text x="135" y="1495">11</text><text x="157" y="1495">12</text><text x="179" y="1495">13</text>
<text x="189" y="1456">14</text><text x="210" y="1456">15</text><text x="231" y="1456">16</text><text x="210" y="1475">17</text><text x="210" y="1495">18</text>
<text x="262" y="1456">19</text><text x="262" y="1475">20</text><text x="241" y="1495">21</text><text x="262" y="1495">22</text><text x="284" y="1495">23</text>
<text x="294" y="1456">24</text><text x="315" y="1456">25</text><text x="337" y="1456">26</text><text x="315" y="1475">27</text><text x="315" y="1495">28</text>
<text x="369" y="1456">29</text><text x="369" y="1475">30</text><text x="347" y="1495">31</text><text x="369" y="1495">32</text><text x="390" y="1495">33</text>
<text x="401" y="1456">34</text><text x="422" y="1456">35</text><text x="444" y="1456">36</text><text x="422" y="1475">37</text><text x="422" y="1495">38</text>
</g>
<text x="226" y="1543" font-size="14" text-anchor="middle">RELAY BLOCK</text>
<text x="1350" y="1546" font-size="17" text-anchor="middle" style="font-weight:normal">WI-05126</text>
</svg>
</body></html>
